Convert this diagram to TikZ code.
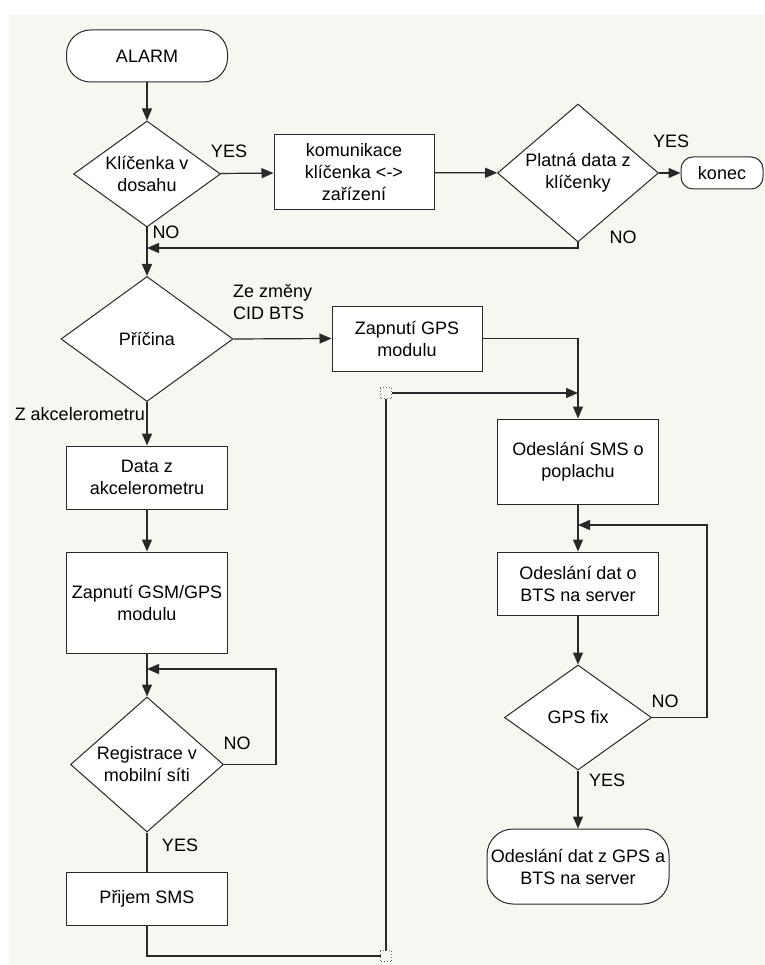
\documentclass[tikz,border=0pt]{standalone}
\usepackage{fontspec}
\setmainfont{Liberation Sans}
\usetikzlibrary{shapes.geometric,arrows.meta}
\definecolor{podklad}{RGB}{248,246,240}
\definecolor{cara}{RGB}{40,40,40}
\tikzset{blok/.style={draw=cara,fill=white,line width=1pt,align=center,inner sep=0pt}}
\tikzset{term/.style={blok,rounded corners=24pt}}
\tikzset{romb/.style={draw=cara,fill=white,line width=1pt,diamond,inner sep=0pt}}
\tikzset{spoj/.style={draw=cara,line width=1.2pt}}
\tikzset{sipka/.style={spoj,-{Triangle[length=12pt,width=10pt]}}}
\tikzset{popis/.style={align=center,inner sep=0pt,text=black}}
\tikzset{uzel/.style={draw=black!60,fill=podklad,dotted,line width=1pt,minimum size=11pt,inner sep=0pt}}

\begin{document}
\begin{tikzpicture}[x=1pt,y=-1pt,font=\fontsize{18}{22}\selectfont]
    \useasboundingbox (0,0) rectangle (764,965);
    \fill[podklad] (9,15) rectangle (764,965);

    % horni cast
    \node[term,minimum width=161pt,minimum height=52pt] (alarm) at (147,56) {ALARM};
    \node[romb,minimum width=147pt,minimum height=106pt,
      label={[popis]center:Klíčenka v\\dosahu}] (klic) at (147,174) {};
    \node[blok,minimum width=160pt,minimum height=75pt] (komun) at (354,172.5) {komunikace\\klíčenka <->\\zařízení};
    \node[romb,minimum width=161pt,minimum height=138pt,
      label={[popis]center:Platná data z\\klíčenky}] (platna) at (578,173) {};
    \node[term,rounded corners=12pt,minimum width=82pt,minimum height=32pt] (konec) at (722,173) {konec};

    % levy sloupec
    \node[romb,minimum width=172pt,minimum height=125pt,
      label={[popis]center:Příčina}] (pricina) at (147,339) {};
    \node[blok,minimum width=161pt,minimum height=63pt] (data) at (147,477.5) {Data z\\akcelerometru};
    \node[blok,minimum width=161pt,minimum height=101pt] (gsm) at (147,602.5) {Zapnutí GSM/GPS\\modulu};
    \node[romb,minimum width=153pt,minimum height=135pt,
      label={[popis]center:Registrace v\\mobilní síti}] (registr) at (147,764.5) {};
    \node[blok,minimum width=161pt,minimum height=53pt] (prijem) at (147,898.5) {Přijem SMS};

    % pravy sloupec
    \node[blok,minimum width=150pt,minimum height=65pt] (gps) at (407,338.5) {Zapnutí GPS\\modulu};
    \node[blok,minimum width=161pt,minimum height=85pt] (sms) at (578,461.5) {Odeslání SMS o\\poplachu};
    \node[blok,minimum width=161pt,minimum height=63pt] (bts) at (578,583.5) {Odeslání dat o\\BTS na server};
    \node[romb,minimum width=147pt,minimum height=105pt,
      label={[popis]center:GPS fix}] (fix) at (578,717.5) {};
    \node[term,rounded corners=26pt,minimum width=182pt,minimum height=75pt] (odeslani) at (578,866.5) {Odeslání dat z GPS a\\BTS na server};

    \coordinate (j1) at (147,248);
    \coordinate (j2) at (147,669);
    \coordinate (j3) at (578,393);
    \coordinate (j4) at (578,525);
    \coordinate (r1) at (386,956);

    \draw[sipka] (alarm) -- (klic);
    \draw[sipka] (klic) -- (komun);
    \draw[sipka] (komun) -- (platna);
    \draw[sipka] (platna) -- (konec);
    \draw[sipka] (platna.south) |- (j1);
    \draw[sipka] (klic.south) -- (pricina.north);
    \draw[sipka] (pricina.east) -- (gps.west);
    \draw[sipka] (gps.east) -| (sms.north);
    \draw[sipka] (pricina.south) -- (data.north);
    \draw[sipka] (data) -- (gsm);
    \draw[sipka] (gsm.south) -- (registr.north);
    \draw[sipka] (registr.east) -- ++(52,0) |- (j2);
    \draw[spoj] (registr.south) -- (prijem.north);
    \draw[sipka] (prijem.south) |- (r1) |- (j3);
    \draw[sipka] (sms) -- (bts);
    \draw[sipka] (bts) -- (fix);
    \draw[sipka] (fix.east) -- ++(55,0) |- (j4);
    \draw[sipka] (fix.south) -- (odeslani.north);

    % body zlomu
    \node[uzel] (zlom1) at (r1) {};
    \node[uzel] (zlom2) at (386,393) {};

    \foreach \x/\y/\t [count=\i] in {229/151/YES,671/141/YES,166/232/NO,623/237/NO,
      237/743/NO,180/845/YES,665/701/NO,607/780/YES}
      \node[popis] (ano\i) at (\x,\y) {\t};
    \node[popis,align=left,anchor=west] (zmena) at (233,302) {Ze změny\\CID BTS};
    \node[popis,anchor=east] (akcel) at (145,414) {Z akcelerometru};
\end{tikzpicture}
\end{document}
